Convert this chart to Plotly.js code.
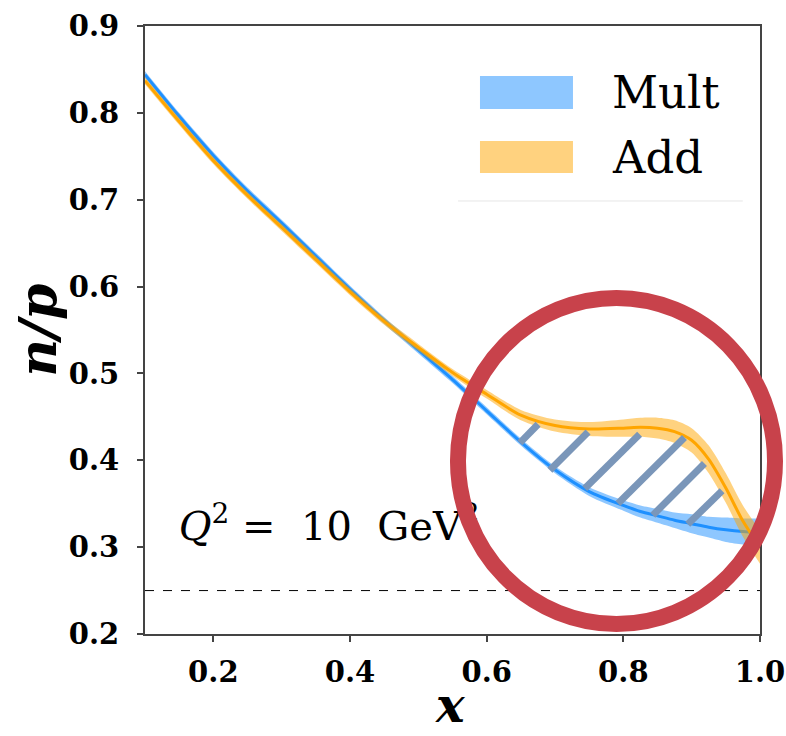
<!DOCTYPE html>
<html>
<head>
<meta charset="utf-8">
<script src="https://cdn.plot.ly/plotly-3.0.1.min.js"></script>
<style>html,body{margin:0;padding:0;background:#fff;}#chart{width:786px;height:736px;}</style>
</head>
<body>
<div id="chart"></div>
<script>
// ---- data ----
const xGrid      = [0.10,0.15,0.20,0.25,0.30,0.35,0.40,0.45,0.50,0.55,0.60,0.65,0.70,0.75,0.80,0.825,0.85,0.875,0.90,0.925,0.95,0.975,1.00];
const multCenter = [0.844,0.796,0.751,0.710,0.673,0.635,0.597,0.561,0.527,0.493,0.457,0.421,0.389,0.364,0.348,0.341,0.336,0.331,0.327,0.323,0.320,0.318,0.317];
const multHalf   = [0.004,0.004,0.004,0.004,0.004,0.004,0.004,0.004,0.004,0.004,0.004,0.004,0.004,0.005,0.006,0.007,0.008,0.009,0.011,0.012,0.014,0.015,0.016];
const addCenter  = [0.837,0.790,0.745,0.705,0.668,0.631,0.594,0.560,0.530,0.501,0.476,0.452,0.440,0.436,0.437,0.438,0.437,0.433,0.423,0.401,0.368,0.330,0.300];
const addHalf    = [0.004,0.004,0.004,0.004,0.004,0.004,0.004,0.004,0.004,0.004,0.005,0.006,0.007,0.008,0.010,0.011,0.012,0.013,0.014,0.016,0.017,0.018,0.019];

// hatch segments between the curves (start on Mult, end on Add)
const hatchX0 = [0.6486,0.6925,0.7435,0.7922,0.8432,0.8943];
const hatchY0 = [0.420,0.3885,0.3675,0.3502,0.3368,0.3264];
const hatchX1 = [0.6753,0.7484,0.8238,0.8895,0.9187,0.9445];
const hatchY1 = [0.4415,0.4326,0.4301,0.4262,0.3963,0.3648];

const refLevel = 0.25;
const xTicks = [0.2,0.4,0.6,0.8,1.0];
const xTickText = ['0.2','0.4','0.6','0.8','1.0'];
const yTicks = [0.2,0.3,0.4,0.5,0.6,0.7,0.8,0.9];
const yTickText = ['0.2','0.3','0.4','0.5','0.6','0.7','0.8','0.9'];
const seriesNames = ['Mult','Add'];
const annotationText = '<i>Q</i><sup>2</sup> =  10  GeV<sup>2</sup>';

// ---- build ----
const multLow  = multCenter.map((v,i)=>v-multHalf[i]);
const multHigh = multCenter.map((v,i)=>v+multHalf[i]);
const addLow   = addCenter.map((v,i)=>v-addHalf[i]);
const addHigh  = addCenter.map((v,i)=>v+addHalf[i]);

const blue = 'rgb(30,144,255)';
const orange = 'rgb(255,165,0)';
const blueFill = 'rgba(30,144,255,0.5)';
const orangeFill = 'rgba(255,165,0,0.5)';

const hx = [], hy = [];
for (let i=0;i<hatchX0.length;i++){ hx.push(hatchX0[i],hatchX1[i],null); hy.push(hatchY0[i],hatchY1[i],null); }

const sp = {shape:'spline', smoothing:0.8};
const traces = [
  {x:xGrid, y:multLow, mode:'lines', line:Object.assign({width:0,color:blueFill},sp), showlegend:false, hoverinfo:'skip'},
  {x:xGrid, y:multHigh, mode:'lines', fill:'tonexty', fillcolor:blueFill, line:Object.assign({width:0,color:blueFill},sp), showlegend:false, hoverinfo:'skip'},
  {x:xGrid, y:multCenter, mode:'lines', name:seriesNames[0], line:Object.assign({width:3,color:blue},sp), showlegend:false},
  {x:xGrid, y:addLow, mode:'lines', line:Object.assign({width:0,color:orangeFill},sp), showlegend:false, hoverinfo:'skip'},
  {x:xGrid, y:addHigh, mode:'lines', fill:'tonexty', fillcolor:orangeFill, line:Object.assign({width:0,color:orangeFill},sp), showlegend:false, hoverinfo:'skip'},
  {x:xGrid, y:addCenter, mode:'lines', name:seriesNames[1], line:Object.assign({width:3,color:orange},sp), showlegend:false},
  {x:hx, y:hy, mode:'lines', line:{width:7,color:'rgb(122,150,185)'}, showlegend:false, hoverinfo:'skip', connectgaps:false},
  {x:[0.1493], y:[0.3194], mode:'text', text:[annotationText], textposition:'middle right', cliponaxis:false,
   textfont:{family:'DejaVu Serif', size:40, color:'black'}, showlegend:false, hoverinfo:'skip'}
];

const serif = 'DejaVu Serif';
const axisCommon = {
  showline:true, mirror:true, linecolor:'#444', linewidth:2,
  ticks:'outside', ticklen:6, tickwidth:2, tickcolor:'#444',
  showgrid:false, zeroline:false,
  tickfont:{family:serif, size:29, color:'black', weight:'bold'}
};

const layout = {
  width:786, height:736,
  margin:{l:145, r:26, t:26, b:102},
  paper_bgcolor:'white', plot_bgcolor:'white',
  showlegend:false,
  xaxis:Object.assign({}, axisCommon, {range:[0.1,1.0], tickvals:xTicks, ticktext:xTickText, ticklabelstandoff:5}),
  yaxis:Object.assign({}, axisCommon, {range:[0.2,0.9], tickvals:yTicks, ticktext:yTickText, ticklabelstandoff:12}),
  shapes:[
    {type:'line', xref:'paper', yref:'y', x0:0, x1:1, y0:refLevel, y1:refLevel, line:{color:'black', width:1, dash:'dash'}, layer:'below'},
    {type:'rect', xref:'paper', yref:'paper', x0:0.5447, x1:0.6959, y0:0.8635, y1:0.9178, fillcolor:blueFill, line:{width:0}},
    {type:'rect', xref:'paper', yref:'paper', x0:0.5447, x1:0.6959, y0:0.7582, y1:0.8109, fillcolor:orangeFill, line:{width:0}},
    {type:'line', xref:'paper', yref:'paper', x0:0.509, x1:0.972, y0:0.7122, y1:0.7122, line:{color:'#e6e6e6', width:1}},
    {type:'circle', xref:'paper', yref:'paper', x0:0.5089, x1:1.0244, y0:0.0164, y1:0.5526, line:{color:'#c8424b', width:16}, layer:'above'}
  ],
  annotations:[
    {xref:'paper', yref:'paper', x:0.7561, y:0.8906, xanchor:'left', yanchor:'middle', showarrow:false, text:seriesNames[0], font:{family:serif, size:45, color:'black'}},
    {xref:'paper', yref:'paper', x:0.7561, y:0.7845, xanchor:'left', yanchor:'middle', showarrow:false, text:seriesNames[1], font:{family:serif, size:45, color:'black'}},
    {xref:'paper', yref:'paper', x:-0.176, y:0.5, xanchor:'center', yanchor:'middle', textangle:-90, showarrow:false, text:'<b><i>n/p</i></b>', font:{family:serif, size:52, color:'black'}},
    {xref:'paper', yref:'paper', x:0.496, y:-0.166, xanchor:'center', yanchor:'bottom', showarrow:false, text:'<b><i>x</i></b>', font:{family:serif, size:48, color:'black'}}
  ]
};

Plotly.newPlot('chart', traces, layout, {staticPlot:true, displayModeBar:false});
</script>
</body>
</html>
